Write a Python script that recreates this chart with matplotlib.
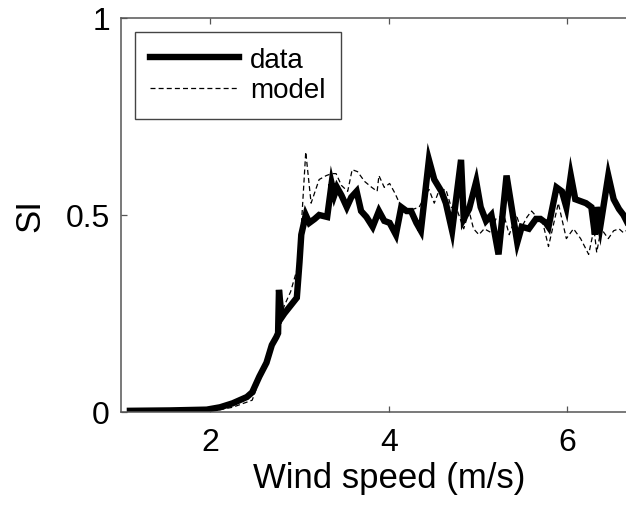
import matplotlib
matplotlib.use("Agg")
import matplotlib.pyplot as plt

plt.rcParams['font.family'] = ['Liberation Sans', 'DejaVu Sans']

# measured SI vs wind speed
wind_data = [1.10, 1.55, 1.96, 2.11, 2.25, 2.41, 2.47, 2.55, 2.63, 2.69, 2.74,
             2.76, 2.77, 2.80, 2.83, 2.97, 3.00, 3.02, 3.07, 3.11, 3.17, 3.22,
             3.31, 3.36, 3.39, 3.42, 3.47, 3.53, 3.58, 3.64, 3.69, 3.75, 3.82,
             3.89, 3.95, 4.01, 4.08, 4.14, 4.20, 4.25, 4.31, 4.36, 4.45, 4.51,
             4.59, 4.64, 4.71, 4.81, 4.84, 4.90, 4.98, 5.03, 5.09, 5.15, 5.23,
             5.32, 5.38, 5.44, 5.49, 5.57, 5.65, 5.70, 5.76, 5.79, 5.88, 5.94,
             5.99, 6.04, 6.09, 6.21, 6.27, 6.31, 6.33, 6.37, 6.46, 6.52, 6.58,
             6.63, 6.72]
si_data = [0.003, 0.004, 0.006, 0.012, 0.022, 0.038, 0.05, 0.09, 0.125, 0.17, 0.19,
           0.20, 0.31, 0.24, 0.25, 0.29, 0.38, 0.45, 0.50, 0.48, 0.49, 0.50,
           0.495, 0.58, 0.55, 0.57, 0.55, 0.52, 0.545, 0.56, 0.51, 0.495, 0.47,
           0.51, 0.485, 0.48, 0.45, 0.52, 0.51, 0.51, 0.48, 0.46, 0.64, 0.59,
           0.56, 0.53, 0.46, 0.64, 0.49, 0.515, 0.585, 0.52, 0.485, 0.50, 0.40,
           0.60, 0.515, 0.43, 0.47, 0.465, 0.49, 0.49, 0.48, 0.47, 0.57, 0.56,
           0.52, 0.60, 0.54, 0.53, 0.52, 0.45, 0.52, 0.47, 0.60, 0.54, 0.515,
           0.50, 0.46]

# model SI vs wind speed
wind_model = [1.10, 1.55, 1.96, 2.11, 2.25, 2.41, 2.47, 2.55, 2.63, 2.69, 2.76,
              2.83, 2.90, 2.97, 3.02, 3.07, 3.13, 3.22, 3.30, 3.36, 3.41, 3.47,
              3.54, 3.59, 3.65, 3.73, 3.81, 3.87, 3.89, 3.95, 4.01, 4.07, 4.12,
              4.20, 4.28, 4.34, 4.45, 4.51, 4.56, 4.64, 4.70, 4.77, 4.84, 4.90,
              4.95, 5.01, 5.07, 5.15, 5.20, 5.29, 5.35, 5.43, 5.48, 5.55, 5.60,
              5.66, 5.71, 5.79, 5.90, 5.99, 6.07, 6.15, 6.24, 6.30, 6.33, 6.38,
              6.46, 6.52, 6.58, 6.63, 6.72]
si_model = [0.002, 0.003, 0.004, 0.006, 0.012, 0.025, 0.03, 0.08, 0.12, 0.16, 0.22,
            0.27, 0.305, 0.36, 0.47, 0.66, 0.53, 0.59, 0.60, 0.605, 0.605, 0.575,
            0.56, 0.615, 0.61, 0.585, 0.57, 0.56, 0.60, 0.57, 0.58, 0.555, 0.53,
            0.51, 0.515, 0.52, 0.565, 0.53, 0.56, 0.565, 0.52, 0.51, 0.465, 0.51,
            0.465, 0.45, 0.465, 0.455, 0.49, 0.50, 0.45, 0.50, 0.465, 0.495, 0.51,
            0.495, 0.495, 0.42, 0.53, 0.44, 0.465, 0.44, 0.40, 0.465, 0.405, 0.465,
            0.44, 0.46, 0.465, 0.455, 0.47]

x_ticks = [2, 4, 6]
y_ticks = [0, 0.5, 1]
y_ticklabels = ['0', '0.5', '1']

fig = plt.figure(figsize=(6.26, 5.06), dpi=100)
# axes run past the right edge (the original figure is cropped there)
ax = fig.add_axes([0.1933, 0.1838, 0.8554, 0.7787])

ax.plot(wind_data, si_data, color='black', lw=4.6, label='data',
        solid_joinstyle='miter')
ax.plot(wind_model, si_model, color='black', lw=0.9, ls=(0, (4, 2.5)),
        label='model')

ax.set_xlim(1, 7)
ax.set_ylim(0, 1)
ax.set_xticks(x_ticks)
ax.set_yticks(y_ticks)
ax.set_yticklabels(y_ticklabels)
ax.tick_params(direction='in', length=4, width=0.9, color='#555555',
               labelsize=23, top=True, right=False, pad=8)
ax.tick_params(axis='x', pad=11)

for side in ['left', 'bottom', 'top', 'right']:
    ax.spines[side].set_color('#555555')
    ax.spines[side].set_linewidth(1.1)

ax.set_xlabel('Wind speed (m/s)', fontsize=25, labelpad=3)
ax.set_ylabel('SI', fontsize=25, labelpad=14)

leg = ax.legend(loc='upper left', fontsize=20, handlelength=3.2,
                handletextpad=0.4, labelspacing=0.15, borderpad=0.55,
                borderaxespad=0.5, fancybox=False, framealpha=1)
leg.get_frame().set_edgecolor('#444444')
leg.get_frame().set_linewidth(1.0)

fig.savefig('out.png', dpi=100)
